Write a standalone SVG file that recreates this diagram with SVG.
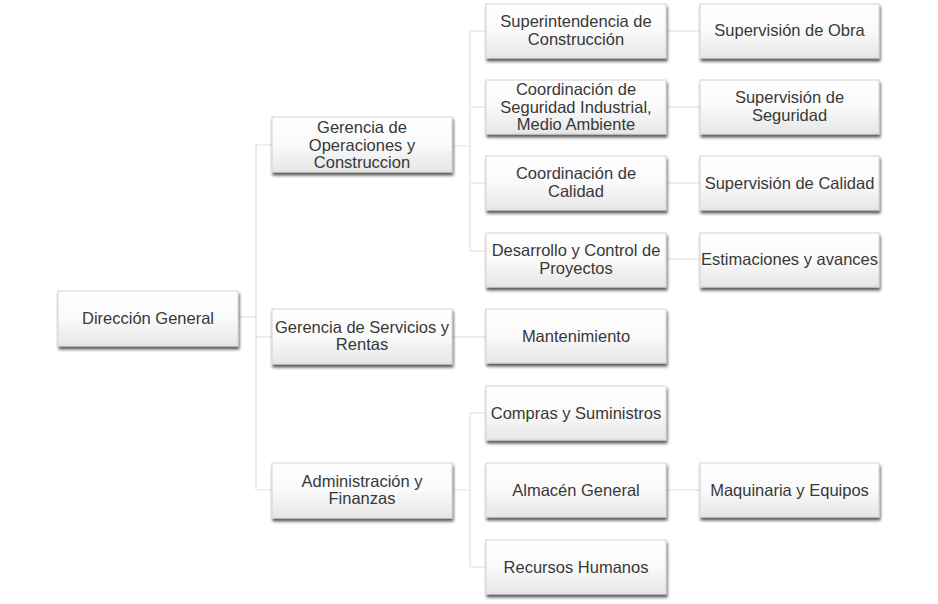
<svg xmlns="http://www.w3.org/2000/svg" width="938" height="604" viewBox="0 0 938 604">
<defs>
<linearGradient id="g" x1="0" y1="0" x2="0" y2="1">
<stop offset="0" stop-color="#ffffff"/>
<stop offset="0.5" stop-color="#fafafa"/>
<stop offset="1" stop-color="#e6e6e6"/>
</linearGradient>
<filter id="sh" x="-10%" y="-20%" width="125%" height="160%">
<feDropShadow dx="1" dy="3" stdDeviation="1.4" flood-color="#000" flood-opacity="0.65"/>
</filter>
</defs>
<style>
.b{fill:url(#g);stroke:#d4d4d4;stroke-width:1;filter:url(#sh)}
.t{font-family:"Liberation Sans",Arial,sans-serif;font-size:16.5px;fill:#383838;text-anchor:middle}
.c{stroke:#e0e0e0;stroke-width:1.2;fill:none}
</style>
<rect width="938" height="604" fill="#ffffff"/>
<g id="connectors" class="c">
<path d="M238 317H256M256 145V490M256 145H272M256 337H272M256 490H272"/>
<path d="M452 146H470M470 31V251M470 31H486M470 107H486M470 183H486M470 251H486"/>
<path d="M452 337H486"/>
<path d="M452 490H470M470 413V567M470 413H486M470 567H486"/>
<path d="M666 31H700M666 107H700M666 183H700M666 259H700M666 490H700"/>
</g>
<g id="n-direccion"><rect class="b" x="58" y="291" width="180" height="55"/><text class="t" x="148" y="324">Dirección General</text></g>
<g id="n-gerencia-op"><rect class="b" x="272" y="117" width="180" height="55"/><text class="t" x="362"><tspan x="362" y="133">Gerencia de</tspan><tspan x="362" y="150.5">Operaciones y</tspan><tspan x="362" y="168">Construccion</tspan></text></g>
<g id="n-gerencia-serv"><rect class="b" x="272" y="309" width="180" height="55"/><text class="t" x="362"><tspan x="362" y="332.5">Gerencia de Servicios y</tspan><tspan x="362" y="350">Rentas</tspan></text></g>
<g id="n-admin"><rect class="b" x="272" y="463" width="180" height="55"/><text class="t" x="362"><tspan x="362" y="486.5">Administración y</tspan><tspan x="362" y="504">Finanzas</tspan></text></g>
<g id="n-superintendencia"><rect class="b" x="486" y="4" width="180" height="54"/><text class="t" x="576"><tspan x="576" y="27">Superintendencia de</tspan><tspan x="576" y="44.5">Construcción</tspan></text></g>
<g id="n-seguridad"><rect class="b" x="486" y="80" width="180" height="54"/><text class="t" x="576"><tspan x="576" y="95">Coordinación de</tspan><tspan x="576" y="112.5">Seguridad Industrial,</tspan><tspan x="576" y="130">Medio Ambiente</tspan></text></g>
<g id="n-calidad"><rect class="b" x="486" y="156" width="180" height="54"/><text class="t" x="576"><tspan x="576" y="179">Coordinación de</tspan><tspan x="576" y="196.5">Calidad</tspan></text></g>
<g id="n-desarrollo"><rect class="b" x="486" y="233" width="180" height="54"/><text class="t" x="576"><tspan x="576" y="256">Desarrollo y Control de</tspan><tspan x="576" y="273.5">Proyectos</tspan></text></g>
<g id="n-mantenimiento"><rect class="b" x="486" y="309" width="180" height="54"/><text class="t" x="576" y="342">Mantenimiento</text></g>
<g id="n-compras"><rect class="b" x="486" y="386" width="180" height="54"/><text class="t" x="576" y="419">Compras y Suministros</text></g>
<g id="n-almacen"><rect class="b" x="486" y="463" width="180" height="54"/><text class="t" x="576" y="496">Almacén General</text></g>
<g id="n-rrhh"><rect class="b" x="486" y="540" width="180" height="54"/><text class="t" x="576" y="573">Recursos Humanos</text></g>
<g id="n-obra"><rect class="b" x="700" y="4" width="179" height="54"/><text class="t" x="789.5" y="36">Supervisión de Obra</text></g>
<g id="n-sup-seguridad"><rect class="b" x="700" y="80" width="179" height="54"/><text class="t" x="789.5"><tspan x="789.5" y="103">Supervisión de</tspan><tspan x="789.5" y="120.5">Seguridad</tspan></text></g>
<g id="n-sup-calidad"><rect class="b" x="700" y="156" width="179" height="54"/><text class="t" x="789.5" y="189">Supervisión de Calidad</text></g>
<g id="n-estimaciones"><rect class="b" x="700" y="233" width="179" height="54"/><text class="t" x="789.5" y="265">Estimaciones y avances</text></g>
<g id="n-maquinaria"><rect class="b" x="700" y="463" width="179" height="54"/><text class="t" x="789.5" y="496">Maquinaria y Equipos</text></g>
</svg>
